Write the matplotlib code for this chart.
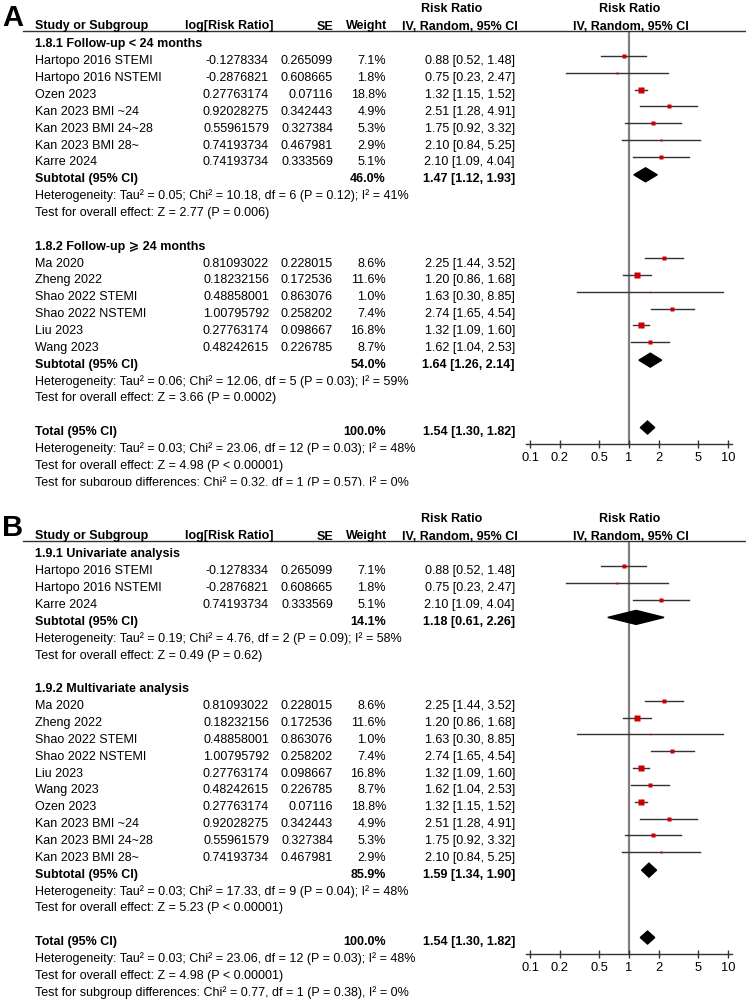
import matplotlib
matplotlib.use("Agg")
import matplotlib.pyplot as plt
from matplotlib.patches import Polygon, Rectangle
import numpy as np

plt.rcParams["font.family"] = ["Liberation Sans", "DejaVu Sans"]

# ---- study data ----
studies = ["Hartopo 2016 STEMI", "Hartopo 2016 NSTEMI", "Ozen 2023", "Kan 2023 BMI ~24",
           "Kan 2023 BMI 24~28", "Kan 2023 BMI 28~", "Karre 2024", "Ma 2020", "Zheng 2022",
           "Shao 2022 STEMI", "Shao 2022 NSTEMI", "Liu 2023", "Wang 2023"]
log_rr = ["-0.1278334", "-0.2876821", "0.27763174", "0.92028275", "0.55961579", "0.74193734",
          "0.74193734", "0.81093022", "0.18232156", "0.48858001", "1.00795792", "0.27763174",
          "0.48242615"]
se = ["0.265099", "0.608665", "0.07116", "0.342443", "0.327384", "0.467981", "0.333569",
      "0.228015", "0.172536", "0.863076", "0.258202", "0.098667", "0.226785"]
weight = [7.1, 1.8, 18.8, 4.9, 5.3, 2.9, 5.1, 8.6, 11.6, 1.0, 7.4, 16.8, 8.7]
rr = [0.88, 0.75, 1.32, 2.51, 1.75, 2.10, 2.10, 2.25, 1.20, 1.63, 2.74, 1.32, 1.62]
rr_lo = [0.52, 0.23, 1.15, 1.28, 0.92, 0.84, 1.09, 1.44, 0.86, 0.30, 1.65, 1.09, 1.04]
rr_hi = [1.48, 2.47, 1.52, 4.91, 3.32, 5.25, 4.04, 3.52, 1.68, 8.85, 4.54, 1.60, 2.53]

# ---- panel A: follow-up subgroups ----
a_groups = ["1.8.1 Follow-up < 24 months", "1.8.2 Follow-up \u2a7e 24 months"]
a_members = [studies[0:7], studies[7:13]]
a_sub_w = [46.0, 54.0]
a_sub_rr = [1.47, 1.64]
a_sub_lo = [1.12, 1.26]
a_sub_hi = [1.93, 2.14]
a_het = ["Heterogeneity: Tau\u00b2 = 0.05; Chi\u00b2 = 10.18, df = 6 (P = 0.12); I\u00b2 = 41%",
         "Heterogeneity: Tau\u00b2 = 0.06; Chi\u00b2 = 12.06, df = 5 (P = 0.03); I\u00b2 = 59%"]
a_eff = ["Test for overall effect: Z = 2.77 (P = 0.006)",
         "Test for overall effect: Z = 3.66 (P = 0.0002)"]
a_subdiff = "Test for subgroup differences: Chi\u00b2 = 0.32, df = 1 (P = 0.57), I\u00b2 = 0%"

# ---- panel B: analysis type subgroups ----
b_groups = ["1.9.1 Univariate analysis", "1.9.2 Multivariate analysis"]
b_members = [["Hartopo 2016 STEMI", "Hartopo 2016 NSTEMI", "Karre 2024"],
             ["Ma 2020", "Zheng 2022", "Shao 2022 STEMI", "Shao 2022 NSTEMI", "Liu 2023",
              "Wang 2023", "Ozen 2023", "Kan 2023 BMI ~24", "Kan 2023 BMI 24~28",
              "Kan 2023 BMI 28~"]]
b_sub_w = [14.1, 85.9]
b_sub_rr = [1.18, 1.59]
b_sub_lo = [0.61, 1.34]
b_sub_hi = [2.26, 1.90]
b_het = ["Heterogeneity: Tau\u00b2 = 0.19; Chi\u00b2 = 4.76, df = 2 (P = 0.09); I\u00b2 = 58%",
         "Heterogeneity: Tau\u00b2 = 0.03; Chi\u00b2 = 17.33, df = 9 (P = 0.04); I\u00b2 = 48%"]
b_eff = ["Test for overall effect: Z = 0.49 (P = 0.62)",
         "Test for overall effect: Z = 5.23 (P < 0.00001)"]
b_subdiff = "Test for subgroup differences: Chi\u00b2 = 0.77, df = 1 (P = 0.38), I\u00b2 = 0%"

# overall (same in both panels)
tot_rr, tot_lo, tot_hi = 1.54, 1.30, 1.82
tot_het = "Heterogeneity: Tau\u00b2 = 0.03; Chi\u00b2 = 23.06, df = 12 (P = 0.03); I\u00b2 = 48%"
tot_eff = "Test for overall effect: Z = 4.98 (P < 0.00001)"

ticks = [0.1, 0.2, 0.5, 1, 2, 5, 10]
tick_labels = ["0.1", "0.2", "0.5", "1", "2", "5", "10"]

W, H = 746, 999
FS = 9.0
ROW = 16.85
fig = plt.figure(figsize=(W / 100, H / 100), dpi=100)


def ci_text(r, lo, hi):
    return f"{r:.2f} [{lo:.2f}, {hi:.2f}]"


def draw_panel(top, letter, groups, members, sub_w, sub_rr, sub_lo, sub_hi, het, eff, subdiff):
    ax_top, ax_bot = top + 31, top + 444
    ax = fig.add_axes([526 / W, 1 - ax_bot / H, 206 / W, (ax_bot - ax_top) / H])
    ax.set_xscale("log")
    ax.set_xlim(0.0909, 11)
    ax.set_ylim(ax_bot, ax_top)
    for s in ["top", "left", "right"]:
        ax.spines[s].set_visible(False)
    ax.spines["bottom"].set_color("#333333")
    ax.spines["bottom"].set_linewidth(1.0)
    ax.set_xticks(ticks)
    ax.set_xticklabels(tick_labels)
    ax.minorticks_off()
    ax.set_yticks([])
    ax.tick_params(axis="x", direction="inout", length=6, width=1, color="#333333",
                   labelsize=FS + 0.3, pad=2.5)
    ax.axvline(1, color="#808080", lw=1.6, zorder=1)
    ax.patch.set_visible(False)

    tx = fig.add_axes([0, 0, 1, 1])
    tx.set_xlim(0, W)
    tx.set_ylim(H, 0)
    tx.axis("off")

    def txt(x, y, s, ha="left", bold=False, size=FS):
        tx.text(x, y + 4.5, s, ha=ha, va="baseline", fontsize=size,
                fontweight="bold" if bold else "normal", color="black")

    tx.text(2, top + 26, letter, fontsize=21, fontweight="bold", va="baseline", ha="left")
    # header
    txt(452, top + 8, "Risk Ratio", ha="center", bold=True)
    txt(630, top + 8, "Risk Ratio", ha="center", bold=True)
    txt(35, top + 25, "Study or Subgroup", bold=True)
    txt(185, top + 25, "log[Risk Ratio]", bold=True)
    txt(333, top + 25, "SE", ha="right", bold=True)
    txt(387, top + 25, "Weight", ha="right", bold=True)
    txt(460, top + 25, "IV, Random, 95% CI", ha="center", bold=True)
    txt(631, top + 25, "IV, Random, 95% CI", ha="center", bold=True)
    tx.plot([23, W], [top + 31, top + 31], color="#333333", lw=1.0)

    k = 0
    y0 = top + 43

    def diamond(y, r, lo, hi, h=7):
        ax.add_patch(Polygon([[lo, y], [r, y - h], [hi, y], [r, y + h]],
                             closed=True, color="black", zorder=3))

    for g in range(2):
        txt(35, y0 + k * ROW, groups[g], bold=True)
        k += 1
        for name in members[g]:
            i = studies.index(name)
            y = y0 + k * ROW
            txt(35, y, name)
            txt(269, y, log_rr[i], ha="right")
            txt(333, y, se[i], ha="right")
            txt(386, y, f"{weight[i]:.1f}%", ha="right")
            txt(515, y, ci_text(rr[i], rr_lo[i], rr_hi[i]), ha="right")
            ax.plot([rr_lo[i], rr_hi[i]], [y - 4, y - 4], color="#333333", lw=1.0, zorder=2)
            side = 1.5 * np.sqrt(weight[i])
            ax.plot(rr[i], y - 4, marker="s", ms=side / 1.389, color="#cc0000",
                    mec="none", zorder=3)
            k += 1
        y = y0 + k * ROW
        txt(35, y, "Subtotal (95% CI)", bold=True)
        txt(386, y, f"{sub_w[g]:.1f}%", ha="right", bold=True)
        txt(515, y, ci_text(sub_rr[g], sub_lo[g], sub_hi[g]), ha="right", bold=True)
        diamond(y - 3, sub_rr[g], sub_lo[g], sub_hi[g])
        k += 1
        txt(35, y0 + k * ROW, het[g])
        k += 1
        txt(35, y0 + k * ROW, eff[g])
        k += 2

    y = y0 + k * ROW
    txt(35, y, "Total (95% CI)", bold=True)
    txt(386, y, "100.0%", ha="right", bold=True)
    txt(515, y, ci_text(tot_rr, tot_lo, tot_hi), ha="right", bold=True)
    diamond(y - 3, tot_rr, tot_lo, tot_hi, h=6.5)
    k += 1
    txt(35, y0 + k * ROW, tot_het)
    k += 1
    txt(35, y0 + k * ROW, tot_eff)
    k += 1
    txt(35, y0 + k * ROW, subdiff)
    return tx


tx_a = draw_panel(0, "A", a_groups, a_members, a_sub_w, a_sub_rr, a_sub_lo, a_sub_hi,
                  a_het, a_eff, a_subdiff)
# the reference panel A is cropped through its last line
tx_a.add_patch(Rectangle((0, 485.5), W, 22, color="white", zorder=10))
draw_panel(510, "B", b_groups, b_members, b_sub_w, b_sub_rr, b_sub_lo, b_sub_hi,
           b_het, b_eff, b_subdiff)

fig.savefig("out.png", dpi=100)
